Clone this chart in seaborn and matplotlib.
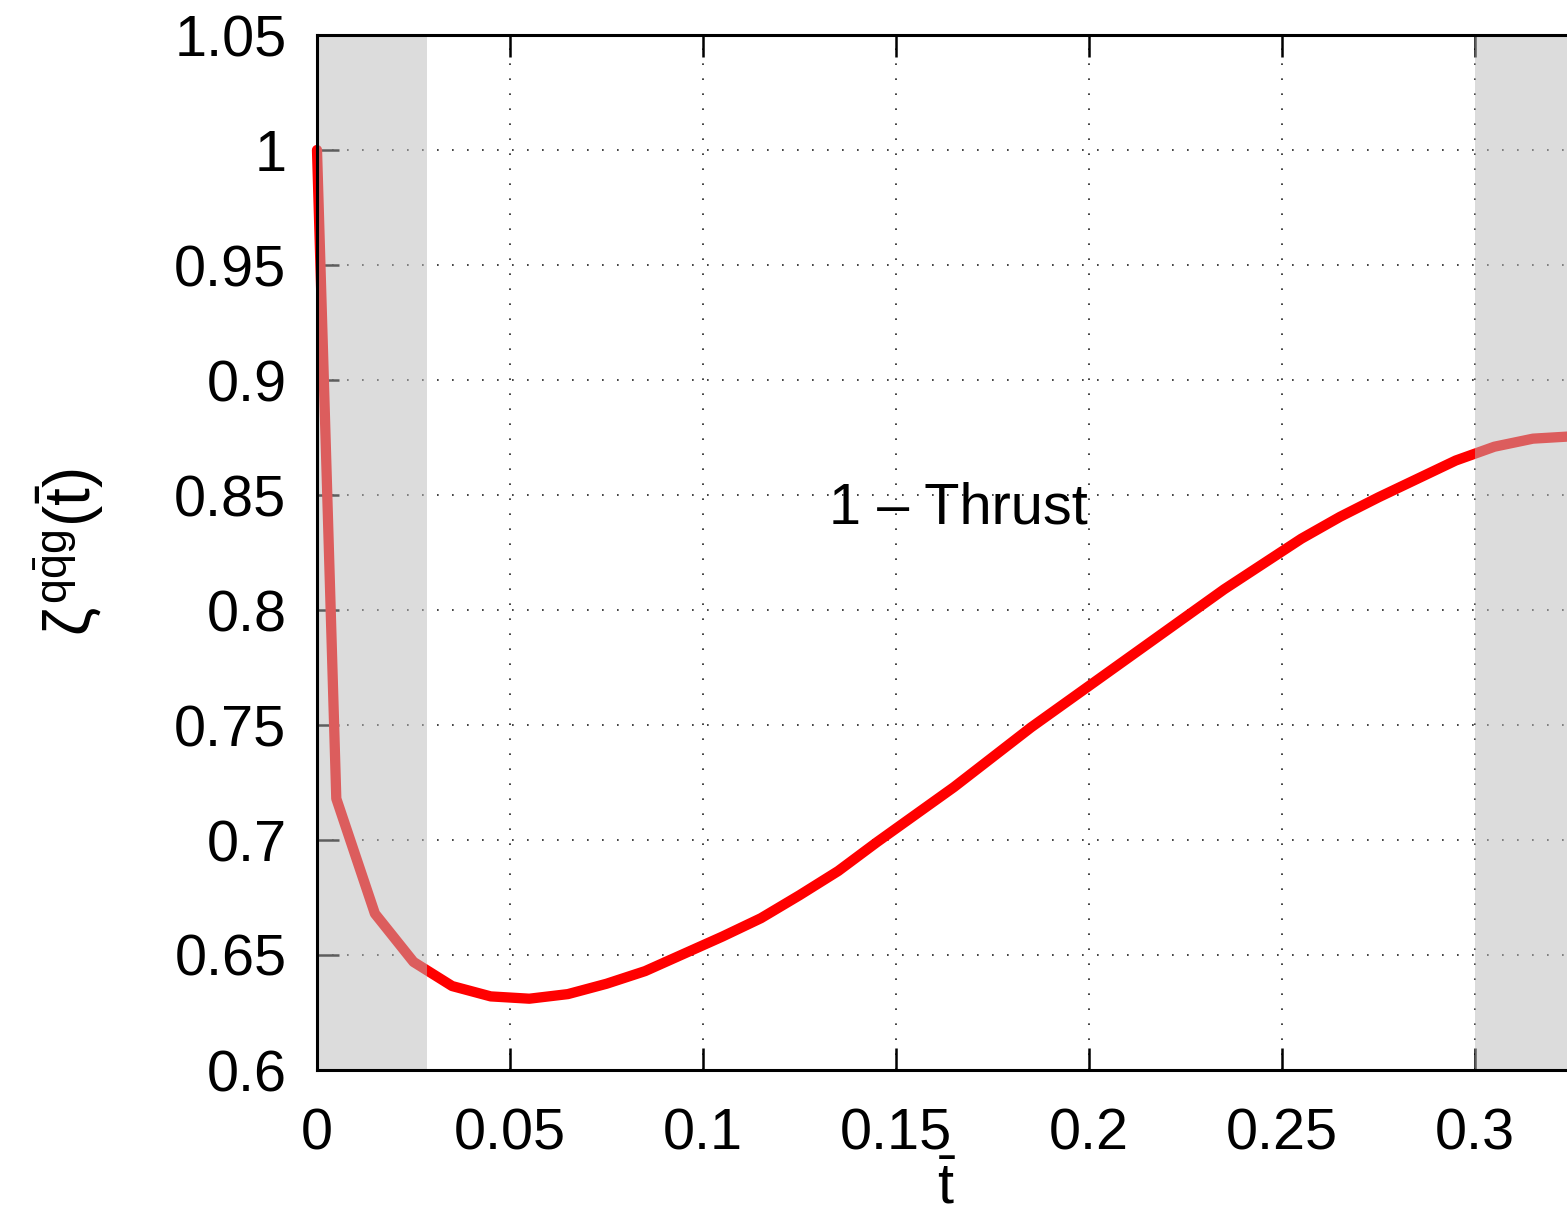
import numpy as np
import pandas as pd
import matplotlib
matplotlib.use("Agg")
import matplotlib.pyplot as plt
import seaborn as sns

# ---- data ----
t_bar = [0.0, 0.005, 0.015, 0.025, 0.035, 0.045, 0.055, 0.065, 0.075, 0.085,
         0.095, 0.105, 0.115, 0.125, 0.135, 0.145, 0.155, 0.165, 0.175, 0.185,
         0.195, 0.205, 0.215, 0.225, 0.235, 0.245, 0.255, 0.265, 0.275, 0.285,
         0.295, 0.305, 0.315, 0.325]
zeta = [1.0, 0.718, 0.668, 0.647, 0.6365, 0.632, 0.631, 0.633, 0.6375, 0.643,
        0.6505, 0.658, 0.666, 0.676, 0.6865, 0.699, 0.711, 0.723, 0.736, 0.749,
        0.761, 0.773, 0.785, 0.797, 0.809, 0.820, 0.831, 0.8405, 0.849, 0.857,
        0.865, 0.871, 0.8745, 0.8755]
x_ticks = [0, 0.05, 0.1, 0.15, 0.2, 0.25, 0.3]
x_tick_labels = ["0", "0.05", "0.1", "0.15", "0.2", "0.25", "0.3"]
y_ticks = [0.6, 0.65, 0.7, 0.75, 0.8, 0.85, 0.9, 0.95, 1.0, 1.05]
y_tick_labels = ["0.6", "0.65", "0.7", "0.75", "0.8", "0.85", "0.9", "0.95", "1", "1.05"]
shaded_regions = [(0.0, 0.0284), (0.3, 0.34)]
annotation = "1 – Thrust"

df = pd.DataFrame({"t": t_bar, "zeta": zeta})

sns.set_theme(style="ticks")
plt.rcParams.update({
    "font.family": ["Liberation Sans", "DejaVu Sans"],
    "mathtext.fontset": "custom",
    "mathtext.rm": "Liberation Sans",
    "mathtext.it": "Liberation Sans",
    "mathtext.bf": "Liberation Sans:bold",
    "text.color": "black",
    "axes.labelcolor": "black",
    "xtick.color": "black",
    "ytick.color": "black",
    "xtick.direction": "in",
    "ytick.direction": "in",
    "xtick.major.size": 16,
    "ytick.major.size": 16,
    "xtick.major.width": 1.8,
    "ytick.major.width": 1.8,
    "xtick.top": True,
    "xtick.bottom": True,
    "ytick.left": True,
    "ytick.right": False,
})

FS = 41.5
W, H = 1567, 1214
fig = plt.figure(figsize=(W / 100, H / 100), dpi=100)
left, right, bottom, top = 317 / W, 1577 / W, 1 - 1070 / H, 1 - 35 / H
ax = fig.add_axes([left, bottom, right - left, top - bottom])

sns.lineplot(data=df, x="t", y="zeta", ax=ax, color="#ff0000", lw=7.4,
             estimator=None, sort=False, clip_on=False, zorder=2)

for a, b in shaded_regions:
    ax.axvspan(a, b, color="#bbbbbb", alpha=0.5, lw=0, zorder=2.2)

ax.set_xlim(0, 0.3264)
ax.set_ylim(0.6, 1.05)
ax.set_xticks(x_ticks)
ax.set_xticklabels(x_tick_labels)
ax.set_yticks(y_ticks)
ax.set_yticklabels(y_tick_labels)

ax.grid(True, color="#222222", linestyle=(0, (1, 8)), linewidth=1.2)
ax.tick_params(axis="both", which="major", direction="in", length=16, width=1.8,
               labelsize=FS, colors="black", top=True, bottom=True, left=True, right=False)
ax.tick_params(axis="x", pad=27)
ax.tick_params(axis="y", pad=22)
for tk in ax.xaxis.get_major_ticks() + ax.yaxis.get_major_ticks():
    tk.tick1line.set_visible(True)
    tk.tick1line.set_markersize(16)
    tk.tick1line.set_markeredgewidth(1.8)
for tk in ax.xaxis.get_major_ticks():
    tk.tick2line.set_visible(True)
    tk.tick2line.set_markersize(16)
    tk.tick2line.set_markeredgewidth(1.8)

for s in ax.spines.values():
    s.set_linewidth(2.2)
    s.set_color("black")
    s.set_zorder(3)

ax.text(0.1661, 0.8378, annotation, fontsize=FS, ha="center", va="baseline", zorder=4)

ax.set_xlabel(r"$\bar{\mathrm{t}}$", fontsize=FS, labelpad=0)
ax.xaxis.set_label_coords((947 - 317) / (1577 - 317), -0.088)
ax.set_ylabel(r"$\zeta^{\mathrm{q\bar{q}g}}(\bar{\mathrm{t}})$", fontsize=46)
ax.yaxis.set_label_coords(-(317 - 106) / (1577 - 317), 0.5)

fig.savefig("out.png", dpi=100)
